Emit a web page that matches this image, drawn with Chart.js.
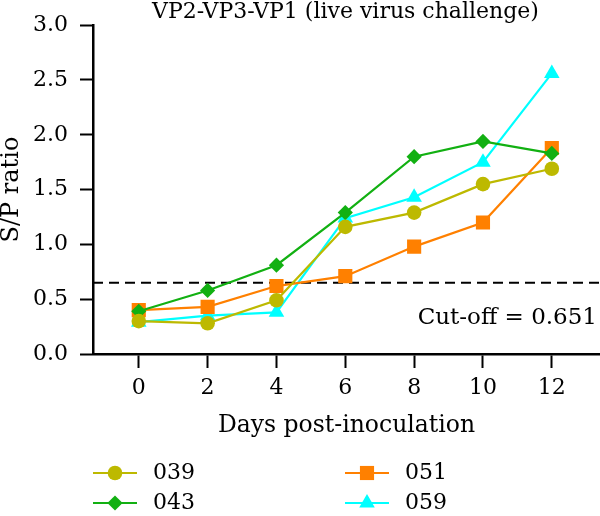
<!DOCTYPE html>
<html>
<head>
<meta charset="utf-8">
<script src="https://cdn.jsdelivr.net/npm/chart.js@4.4.1/dist/chart.umd.min.js"></script>
<style>
  html, body { margin: 0; background: #fff; }
  #wrap { width: 600px; height: 516px; position: relative; }
</style>
</head>
<body>
<div id="wrap"><canvas id="chart"></canvas></div>
<script>
/* ---------- data ---------- */
const days = [0, 2, 4, 6, 8, 10, 12];
const xTicks = [0, 2, 4, 6, 8, 10, 12];
const yTicks = [0, 0.5, 1, 1.5, 2, 2.5, 3];
const s039 = [0.30, 0.28, 0.49, 1.16, 1.29, 1.55, 1.69];
const s043 = [0.39, 0.58, 0.81, 1.29, 1.80, 1.94, 1.83];
const s051 = [0.40, 0.43, 0.62, 0.71, 0.98, 1.20, 1.88];
const s059 = [0.29, 0.35, 0.38, 1.24, 1.43, 1.75, 2.56];
const cutoff = 0.651;
const xRange = [-1.33, 13.4];

const titleText = "VP2-VP3-VP1 (live virus challenge)";
const cutoffText = "Cut-off = 0.651";
const xTitle = "Days post-inoculation";
const yTitle = "S/P ratio";

const FONT = "'DejaVu Serif', serif";

/* ---------- series ---------- */
const series = [
  { label: "039", data: s039, color: "#bdb900", style: "circle", r: 7.3 },
  { label: "043", data: s043, color: "#12b012", style: "rectRot", r: 7.6 },
  { label: "051", data: s051, color: "#ff8000", style: "rect", r: 10 },
  { label: "059", data: s059, color: "#00ffff", style: "triangle", r: 9 },
];

const toXY = (vals) => days.map((d, i) => ({ x: d, y: vals[i] }));

const datasets = series.map((s) => ({
  label: s.label,
  data: toXY(s.data),
  borderColor: s.color,
  backgroundColor: s.color,
  borderWidth: 2.2,
  pointStyle: s.style,
  pointRadius: s.r,
  pointBorderWidth: 0,
  pointBackgroundColor: s.color,
  tension: 0,
}));
datasets.push({
  label: "cutoff",
  data: [{ x: xRange[0], y: cutoff }, { x: xRange[1], y: cutoff }],
  borderColor: "#000",
  borderWidth: 2,
  borderDash: [10, 6],
  pointRadius: 0,
});

/* ---------- texts + legend ---------- */
function marker(ctx, s, x, y) {
  ctx.fillStyle = s.color;
  ctx.strokeStyle = s.color;
  if (Chart.helpers && Chart.helpers.drawPoint) {
    Chart.helpers.drawPoint(ctx, { pointStyle: s.style, radius: s.r, rotation: 0, borderWidth: 0 }, x, y);
  } else {
    ctx.beginPath(); ctx.arc(x, y, s.r, 0, Math.PI * 2); ctx.fill();
  }
}

const textPlugin = {
  id: "texts",
  afterDraw(chart) {
    const { ctx, chartArea, scales } = chart;
    ctx.save();
    ctx.fillStyle = "#000";
    ctx.font = `22px ${FONT}`;
    ctx.textAlign = "center";
    ctx.textBaseline = "middle";
    ctx.fillText(titleText, (chartArea.left + chartArea.right) / 2 - 1, 12);

    ctx.font = `23px ${FONT}`;
    ctx.textAlign = "right";
    ctx.fillText(cutoffText, chartArea.right - 3, scales.y.getPixelForValue(cutoff) + 35);

    // legend, 2 columns
    const cols = [93, 345];
    const rows = [473, 503];
    series.forEach((s, i) => {
      const x = cols[Math.floor(i / 2)];
      const y = rows[i % 2];
      ctx.strokeStyle = s.color;
      ctx.lineWidth = 2.2;
      ctx.beginPath(); ctx.moveTo(x, y); ctx.lineTo(x + 44, y); ctx.stroke();
      marker(ctx, s, x + 22, y);
      ctx.fillStyle = "#000";
      ctx.textAlign = "left";
      ctx.font = `22px ${FONT}`;
      ctx.fillText(s.label, x + 60, y);
    });
    ctx.restore();
  },
};

/* ---------- chart ---------- */
new Chart(document.getElementById("chart"), {
  type: "line",
  data: { datasets },
  options: {
    responsive: true,
    maintainAspectRatio: false,
    animation: false,
    layout: { autoPadding: false, padding: { top: 16, right: 0, left: 0, bottom: 72 } },
    plugins: { legend: { display: false }, tooltip: { enabled: false } },
    scales: {
      x: {
        type: "linear",
        min: xRange[0],
        max: xRange[1],
        afterBuildTicks: (s) => { s.ticks = xTicks.map((v) => ({ value: v })); },
        afterFit: (s) => { s.height = 90; s.paddingLeft = 0; s.paddingRight = 0; },
        ticks: { color: "#000", font: { family: FONT, size: 22 }, padding: 7, maxRotation: 0 },
        grid: { drawOnChartArea: false, drawTicks: true, tickLength: 14, tickWidth: 2, tickColor: "#000" },
        border: { color: "#000", width: 2.5 },
        title: { display: true, text: xTitle, color: "#000", font: { family: FONT, size: 23.5 }, padding: { top: 4, bottom: 4 } },
      },
      y: {
        min: 0,
        max: 3,
        afterBuildTicks: (s) => { s.ticks = yTicks.map((v) => ({ value: v })); },
        afterFit: (s) => { s.width = 93; },
        ticks: { color: "#000", font: { family: FONT, size: 22 }, padding: 12, callback: (v) => Number(v).toFixed(1) },
        grid: { drawOnChartArea: false, drawTicks: true, tickLength: 13, tickWidth: 2, tickColor: "#000" },
        border: { color: "#000", width: 2.5 },
        title: { display: true, text: yTitle, color: "#000", font: { family: FONT, size: 24, lineHeight: 1 }, padding: 0 },
      },
    },
  },
  plugins: [textPlugin],
});
</script>
</body>
</html>
